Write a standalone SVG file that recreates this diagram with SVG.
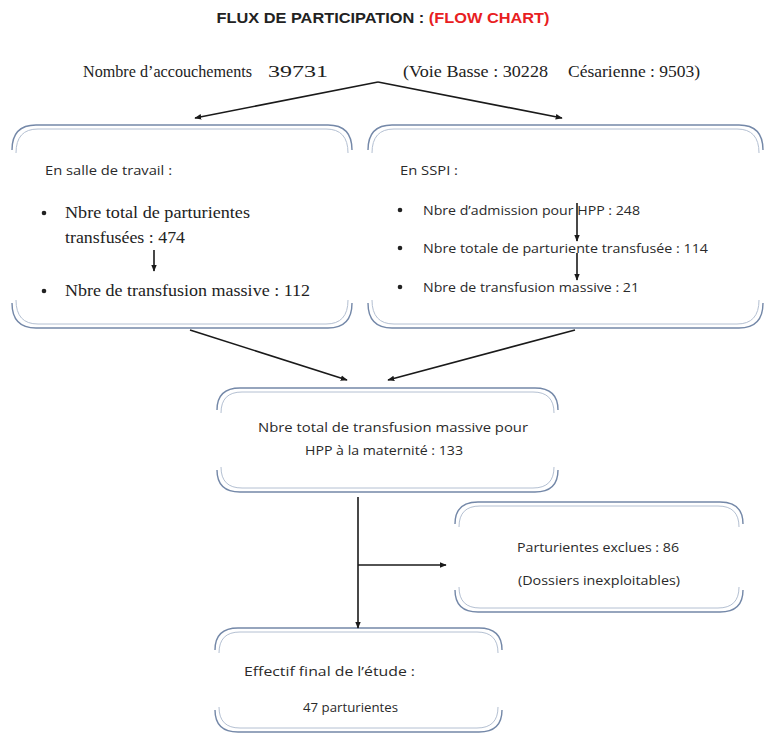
<svg xmlns="http://www.w3.org/2000/svg" width="765" height="734" viewBox="0 0 765 734">
<defs>
<marker id="ah" viewBox="0 0 10 10" refX="9" refY="5" markerWidth="7" markerHeight="7" orient="auto" markerUnits="userSpaceOnUse">
<path d="M0,1 L10,5 L0,9 z" fill="#1a1a1a"/>
</marker>
<style>
.bx{fill:none;stroke:#7488a8;stroke-width:1.4}
.bx2{fill:none;stroke:#b4c0d2;stroke-width:1}
.ser{font-family:"Liberation Serif",serif;font-size:17px;fill:#222}
.san{font-family:"Open Sans","Liberation Sans",sans-serif;font-size:13.5px;fill:#2a2a2a}
.con{stroke:#1a1a1a;stroke-width:1.6;fill:none}
.bul{fill:#222}
</style>
</defs>
<rect width="765" height="734" fill="#ffffff"/>

<text x="383" y="23" text-anchor="middle" font-family="'Liberation Sans',sans-serif" font-weight="bold" font-size="14" textLength="333" lengthAdjust="spacingAndGlyphs"><tspan fill="#222">FLUX DE PARTICIPATION : </tspan><tspan fill="#e8201f">(FLOW CHART)</tspan></text>

<g id="n-top">
<text class="ser" x="83" y="77" font-size="15" textLength="169" lengthAdjust="spacingAndGlyphs">Nombre d’accouchements</text>
<text class="ser" x="268" y="77" font-size="18" textLength="60" lengthAdjust="spacingAndGlyphs">39731</text>
<text class="ser" x="403" y="77" font-size="16" textLength="145" lengthAdjust="spacingAndGlyphs">(Voie Basse : 30228</text>
<text class="ser" x="568" y="77" font-size="16" textLength="132" lengthAdjust="spacingAndGlyphs">Césarienne : 9503)</text>
</g>

<g id="n-salle">
<path class="bx" d="M12,150 Q12,125 36,125 L328,125 Q352,125 352,150"/>
<path class="bx2" d="M16,153 Q16,129 38,129 L326,129 Q348,129 348,153"/>
<path class="bx" d="M12,303 Q12,328 36,328 L328,328 Q352,328 352,303"/>
<path class="bx2" d="M16,300 Q16,324 38,324 L326,324 Q348,324 348,300"/>
<text class="san" x="45" y="175" textLength="127" lengthAdjust="spacingAndGlyphs">En salle de travail :</text>
<circle class="bul" cx="44" cy="213" r="2.3"/>
<text class="ser" x="65" y="218" textLength="185" lengthAdjust="spacingAndGlyphs">Nbre total de parturientes</text>
<text class="ser" x="65" y="243" textLength="120" lengthAdjust="spacingAndGlyphs">transfusées : 474</text>
<circle class="bul" cx="44" cy="291" r="2.3"/>
<text class="ser" x="65" y="296" textLength="245" lengthAdjust="spacingAndGlyphs">Nbre de transfusion massive : 112</text>
</g>

<g id="n-sspi">
<path class="bx" d="M368,150 Q368,125 392,125 L739,125 Q763,125 763,150"/>
<path class="bx2" d="M372,153 Q372,129 394,129 L737,129 Q759,129 759,153"/>
<path class="bx" d="M368,303 Q368,328 392,328 L739,328 Q763,328 763,303"/>
<path class="bx2" d="M372,300 Q372,324 394,324 L737,324 Q759,324 759,300"/>
<text class="san" x="400" y="175" textLength="58" lengthAdjust="spacingAndGlyphs">En SSPI :</text>
<circle class="bul" cx="400" cy="210" r="2.3"/>
<text class="san" x="423" y="215" textLength="217" lengthAdjust="spacingAndGlyphs">Nbre d’admission pour HPP : 248</text>
<circle class="bul" cx="400" cy="248" r="2.3"/>
<text class="san" x="423" y="253" textLength="285" lengthAdjust="spacingAndGlyphs">Nbre totale de parturiente transfusée : 114</text>
<circle class="bul" cx="400" cy="287" r="2.3"/>
<text class="san" x="423" y="292" textLength="216" lengthAdjust="spacingAndGlyphs">Nbre de transfusion massive : 21</text>
</g>

<g id="n-total">
<path class="bx" d="M217,410 Q217,388 240,388 L535,388 Q558,388 558,410"/>
<path class="bx2" d="M221,413 Q221,392 242,392 L533,392 Q554,392 554,413"/>
<path class="bx" d="M217,470 Q217,492 240,492 L535,492 Q558,492 558,470"/>
<path class="bx2" d="M221,467 Q221,488 242,488 L533,488 Q554,488 554,467"/>
<text class="san" x="393" y="432" text-anchor="middle" textLength="270" lengthAdjust="spacingAndGlyphs">Nbre total de transfusion massive pour</text>
<text class="san" x="384" y="455" text-anchor="middle" textLength="158" lengthAdjust="spacingAndGlyphs">HPP à la maternité : 133</text>
</g>

<g id="n-exclues">
<path class="bx" d="M455,524 Q455,502 478,502 L720,502 Q743,502 743,524"/>
<path class="bx2" d="M459,527 Q459,506 480,506 L718,506 Q739,506 739,527"/>
<path class="bx" d="M455,590 Q455,612 478,612 L720,612 Q743,612 743,590"/>
<path class="bx2" d="M459,587 Q459,608 480,608 L718,608 Q739,608 739,587"/>
<text class="san" x="598" y="552" text-anchor="middle" textLength="162" lengthAdjust="spacingAndGlyphs">Parturientes exclues : 86</text>
<text class="san" x="599" y="585" text-anchor="middle" textLength="162" lengthAdjust="spacingAndGlyphs">(Dossiers inexploitables)</text>
</g>

<g id="n-final">
<path class="bx" d="M215,650 Q215,628 238,628 L479,628 Q502,628 502,650"/>
<path class="bx2" d="M219,653 Q219,632 240,632 L477,632 Q498,632 498,653"/>
<path class="bx" d="M215,710 Q215,732 238,732 L479,732 Q502,732 502,710"/>
<path class="bx2" d="M219,707 Q219,728 240,728 L477,728 Q498,728 498,707"/>
<text class="san" x="244" y="676" textLength="171" lengthAdjust="spacingAndGlyphs">Effectif final de l’étude :</text>
<text class="san" x="303" y="712" textLength="95" lengthAdjust="spacingAndGlyphs">47 parturientes</text>
</g>

<g id="connectors">
<path class="con" d="M378,82 L195,118" marker-end="url(#ah)"/>
<path class="con" d="M378,82 L562,118" marker-end="url(#ah)"/>
<path class="con" d="M154,250 L154,271" marker-end="url(#ah)"/>
<path class="con" d="M577,203 L577,241" marker-end="url(#ah)"/>
<path class="con" d="M577,253 L577,280" marker-end="url(#ah)"/>
<path class="con" d="M190,330 L347,380" marker-end="url(#ah)"/>
<path class="con" d="M575,330 L388,380" marker-end="url(#ah)"/>
<path class="con" d="M358,497 L358,628" marker-end="url(#ah)"/>
<path class="con" d="M358,565 L446,565" marker-end="url(#ah)"/>
</g>
</svg>
